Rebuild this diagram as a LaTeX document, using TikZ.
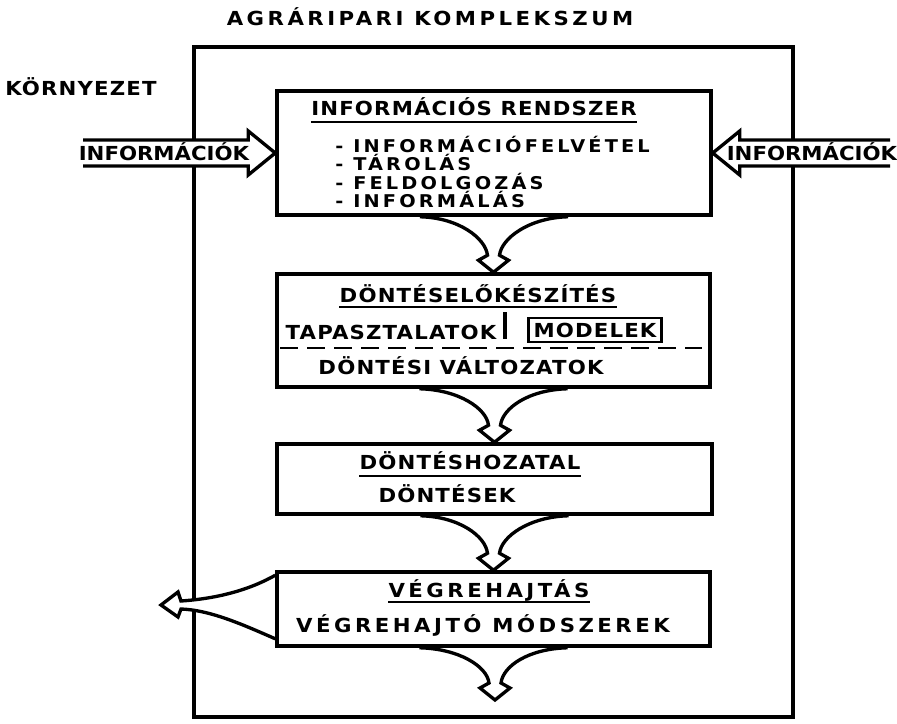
\documentclass[tikz,border=0pt]{standalone}
\usepackage{fontspec}
\newfontfamily\handfont[FakeStretch=1.1,LetterSpace=6]{DejaVu Sans}
\newfontfamily\handwide[FakeStretch=1.1,LetterSpace=18]{DejaVu Sans}
\newfontfamily\handtight[FakeStretch=1.1,LetterSpace=0]{DejaVu Sans}
\usetikzlibrary{calc,fit,positioning,backgrounds}

\newcommand{\funnel}[2]{%
  \draw[pipe] ($(#1)+(-74,0)$) .. controls ($(#1)+(-35,1)$) and ($(#2)+(-8,-34)$) .. ($(#2)+(-6,-17)$)
    -- ($(#2)+(-15,-12)$) -- (#2) -- ($(#2)+(15,-12)$) -- ($(#2)+(6,-17)$)
    .. controls ($(#2)+(8,-34)$) and ($(#1)+(35,1)$) .. ($(#1)+(74,0)$);}

\begin{document}
\begin{tikzpicture}[
  x=0.02cm, y=-0.02cm,
  frame/.style={draw, line width=2pt, inner sep=0pt},
  lbl/.style={font=\handfont\bfseries\fontsize{11}{12}\selectfont, inner sep=0pt, anchor=base},
  wide/.style={lbl, font=\handwide\bfseries\fontsize{11}{12}\selectfont},
  tight/.style={lbl, font=\handtight\bfseries\fontsize{11}{12}\selectfont},
  item/.style={lbl, anchor=base west, font=\handwide\bfseries\fontsize{10}{11}\selectfont},
  uline/.style={line width=1.4pt},
  pipe/.style={draw, fill=white, line width=1.9pt}
]
  \useasboundingbox (0,0) rectangle (897,724);

  \node[frame, fit={(277,91) (711,215)}] (info) {};
  \node[frame, fit={(277,274) (710,387)}] (prep) {};
  \node[frame, fit={(277,444) (712,514)}] (dec) {};
  \node[frame, fit={(277,572) (710,646)}] (exec) {};

  \node[wide] (title) at (430,25) {AGRÁRIPARI KOMPLEKSZUM};
  \node[lbl] (env) at (81,95) {KÖRNYEZET};

  % informacios rendszer
  \node[lbl] (h1) at (474,115) {INFORMÁCIÓS RENDSZER};
  \draw[uline] ($(h1.base west)+(0,7)$) -- ($(h1.base east)+(0,7)$);
  \node[item] (i1) at (335,152.5) {- INFORMÁCIÓFELVÉTEL};
  \node[item] (i2) at (335,170.8) {- TÁROLÁS};
  \node[item] (i3) at (335,189.1) {- FELDOLGOZÁS};
  \node[item] (i4) at (335,207.4) {- INFORMÁLÁS};

  % donteselokeszites
  \node[lbl] (h2) at (478,302) {DÖNTÉSELŐKÉSZÍTÉS};
  \draw[uline] ($(h2.base west)+(0,5)$) -- ($(h2.base east)+(0,5)$);
  \node[lbl] (tap) at (391,339) {TAPASZTALATOK};
  \node[lbl, anchor=center, draw, line width=1.5pt, inner xsep=3pt, minimum height=0.48cm] (mod) at (595,330) {MODELEK};
  \draw[line width=2pt] (505,312) -- (505,339);
  \draw[line width=1.6pt, dash pattern=on 0.36cm off 0.18cm] ($(prep.west)+(5,17.5)$) -- ($(prep.east)+(-10,17.5)$);
  \node[lbl] (valt) at (461,374) {DÖNTÉSI VÁLTOZATOK};

  % donteshozatal
  \node[lbl] (h3) at (470,469) {DÖNTÉSHOZATAL};
  \draw[uline] ($(h3.base west)+(0,7)$) -- ($(h3.base east)+(0,7)$);
  \node[lbl] (dnt) at (447,502) {DÖNTÉSEK};

  % vegrehajtas
  \node[wide] (h4) at (489,597) {VÉGREHAJTÁS};
  \draw[uline] ($(h4.base west)+(0,5)$) -- ($(h4.base east)+(0,5)$);
  \node[wide] (mds) at (483,632) {VÉGREHAJTÓ\ MÓDSZEREK};

  \coordinate (srcL) at (83,153);
  \coordinate (srcR) at (890,153);
  \coordinate (out) at (495,700);
  \coordinate (exit) at (161,605);

  \begin{scope}[on background layer]
    \node[frame, fit={(194,47) (793,717)}] (agrar) {};
    \draw[pipe] ($(srcL)+(0,-13)$) -- ($(info.west)+(-27,-13)$) -- ($(info.west)+(-27,-22)$) -- (info.west)
      -- ($(info.west)+(-27,22)$) -- ($(info.west)+(-27,13)$) -- ($(srcL)+(0,13)$);
    \draw[pipe] ($(srcR)+(0,-13)$) -- ($(info.east)+(27,-13)$) -- ($(info.east)+(27,-22)$) -- (info.east)
      -- ($(info.east)+(27,22)$) -- ($(info.east)+(27,13)$) -- ($(srcR)+(0,13)$);
    \funnel{info.south}{prep.north}
    \funnel{prep.south}{dec.north}
    \funnel{dec.south}{exec.north}
    \funnel{exec.south}{out}
    \draw[pipe] ($(exec.north west)+(0,5)$) .. controls ($(exec.north west)+(-30,22)$) and ($(exit)+(50,-6)$) .. ($(exit)+(20,-4)$)
      -- ($(exit)+(17,-13)$) -- (exit) -- ($(exit)+(17,12)$) -- ($(exit)+(20,4)$)
      .. controls ($(exit)+(50,5)$) and ($(exec.south west)+(-30,-22)$) .. ($(exec.south west)+(0,-9)$);
  \end{scope}

  \node[tight] (infL) at (164,160) {INFORMÁCIÓK};
  \node[tight] (infR) at (812,160) {INFORMÁCIÓK};
\end{tikzpicture}
\end{document}
